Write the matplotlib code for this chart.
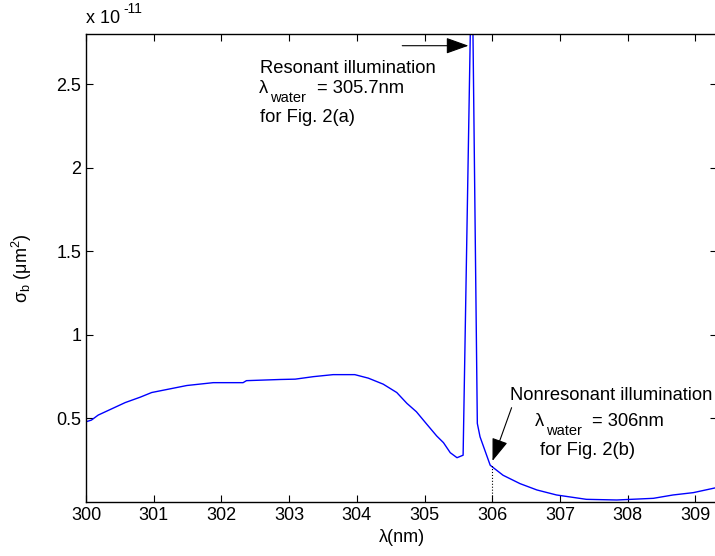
import matplotlib
matplotlib.use("Agg")
import matplotlib.pyplot as plt

plt.rcParams['font.family'] = ['Liberation Sans', 'DejaVu Sans']
plt.rcParams['mathtext.fontset'] = 'custom'
plt.rcParams['mathtext.rm'] = 'Liberation Sans'
plt.rcParams['mathtext.it'] = 'Liberation Sans'

# wavelength (nm) and backscattering cross-section (x 1e-11 um^2)
wavelength = [300.0, 300.08, 300.18, 300.58, 300.8, 300.97, 301.49, 301.88, 302.32, 302.37,
              302.87, 303.09, 303.36, 303.65, 303.97, 304.17, 304.39, 304.59, 304.74, 304.88,
              305.03, 305.18, 305.28, 305.38, 305.48, 305.57, 305.70, 305.78, 305.82, 305.97,
              306.16, 306.41, 306.66, 306.95, 307.39, 307.84, 308.38, 308.67, 308.97, 309.3]
sigma_b = [0.48, 0.49, 0.52, 0.595, 0.627, 0.655, 0.697, 0.714, 0.714, 0.726,
           0.733, 0.735, 0.75, 0.762, 0.762, 0.741, 0.705, 0.655, 0.59, 0.54,
           0.467, 0.395, 0.355, 0.295, 0.265, 0.28, 3.37, 0.47, 0.39, 0.22,
           0.16, 0.11, 0.072, 0.042, 0.016, 0.012, 0.022, 0.042, 0.056, 0.085]

xticks = [300, 301, 302, 303, 304, 305, 306, 307, 308, 309]
yticks = [0.5, 1, 1.5, 2, 2.5]
ytick_labels = ['0.5', '1', '1.5', '2', '2.5']

W, H = 715, 556
fig = plt.figure(figsize=(W / 100, H / 100), dpi=100)
ax = fig.add_axes([86 / W, 54 / H, 631 / W, 468 / H])
ax.plot(wavelength, sigma_b, color='#0000ff', lw=1.0)
ax.plot([306, 306], [0, 0.22], color='black', lw=0.8, ls=':')

ax.set_xlim(300, 309.32)
ax.set_ylim(0, 2.8)
ax.set_xticks(xticks)
ax.set_xticklabels([str(t) for t in xticks])
ax.set_yticks(yticks)
ax.set_yticklabels(ytick_labels)
ax.tick_params(direction='in', top=True, right=True, labelsize=13, length=5, width=0.8)
for s in ax.spines.values():
    s.set_linewidth(1.0)

ax.set_xlabel('λ(nm)', fontsize=13)
ax.xaxis.set_label_coords(0.5, (502 - 529) / 468)
ax.set_ylabel(r'σ$_\mathrm{b}$ (μm$^2$)', fontsize=13)
ax.yaxis.set_label_coords((34 - 86) / 631, 0.5)


def ftext(x, y, s, size=13.2):
    # x, y: pixel position of text start / baseline
    fig.text(x / W, 1 - y / H, s, fontsize=size, ha='left', va='baseline')


ftext(86, 23, 'x 10', 13)
ftext(123, 13, '-11', 10)

arrowprops = dict(arrowstyle='-|>,head_length=0.7,head_width=0.25', color='black', lw=0.8,
                  mutation_scale=20)
ax.annotate('', xy=(305.69, 2.73), xytext=(304.63, 2.73), arrowprops=arrowprops)
ftext(260, 73, 'Resonant illumination')
ftext(259, 93, 'λ')
ftext(270, 102, 'water', 10.5)
ftext(317, 93, '= 305.7nm')
ftext(260, 122, 'for Fig. 2(a)')

ax.annotate('', xy=(305.99, 0.23), xytext=(306.3, 0.58), arrowprops=arrowprops)
ftext(510, 400, 'Nonresonant illumination')
ftext(535, 426, 'λ')
ftext(546, 435, 'water', 10.5)
ftext(592, 426, '= 306nm')
ftext(540, 455, 'for Fig. 2(b)')

fig.savefig('out.png', dpi=100)
